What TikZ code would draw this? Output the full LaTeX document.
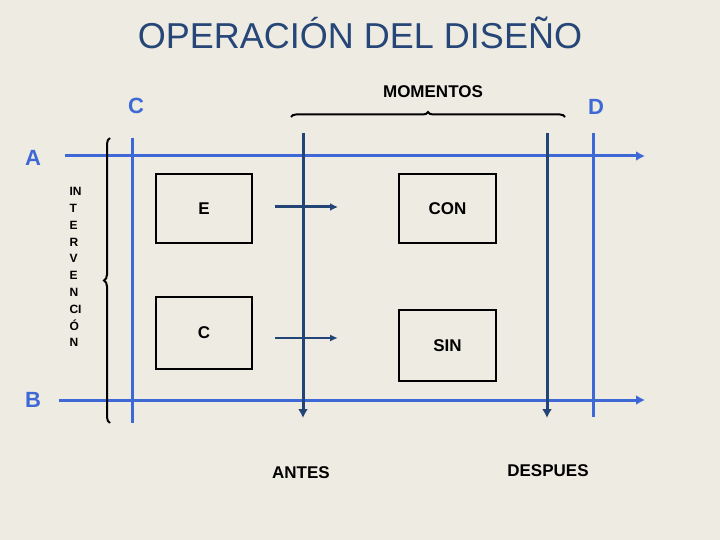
\documentclass[tikz,border=0pt]{standalone}
\usepackage{fontspec}
\setmainfont{Liberation Sans}
\usetikzlibrary{arrows.meta,decorations.pathreplacing}
\definecolor{paper}{RGB}{238,235,226}
\definecolor{titleblue}{RGB}{38,70,120}
\definecolor{axisblue}{RGB}{62,104,214}
\definecolor{navy}{RGB}{35,68,118}

\begin{document}
\begin{tikzpicture}[x=1pt, y=-1pt, >={Latex[length=9pt,width=10pt]},
		box/.style = {draw, line width=2pt, inner sep=0pt, font=\fontsize{17}{17}\selectfont\bfseries},
		axis/.style = {draw=axisblue, line width=3pt},
		moment/.style = {draw=navy, line width=3pt},
		letter/.style = {text=axisblue, font=\fontsize{22}{22}\selectfont\bfseries},
		word/.style = {font=\fontsize{17}{17}\selectfont\bfseries}]
		\fill[paper] (0,0) rectangle (720,540);
		\useasboundingbox (0,0) rectangle (720,540);

		\node[text=titleblue, font=\fontsize{36}{36}\selectfont] (title) at (360,33) {OPERACIÓN DEL DISEÑO};

		% ejes azules
		\coordinate (a1) at (65,156);  \coordinate (a2) at (645,156);
		\coordinate (b1) at (59,400);  \coordinate (b2) at (645,400);
		\coordinate (c1) at (132,138); \coordinate (c2) at (132,423);
		\coordinate (d1) at (593,133); \coordinate (d2) at (593,417);
		\draw[axis, ->] (a1) -- (a2);
		\draw[axis, ->] (b1) -- (b2);
		\draw[axis] (c1) -- (c2);
		\draw[axis] (d1) -- (d2);
		\node[letter] (A) at (33,158) {A};
		\node[letter] (B) at (33,400) {B};
		\node[letter] (C) at (136,106) {C};
		\node[letter] (D) at (596,107) {D};

		% momentos
		\coordinate (antes1) at (303,133);   \coordinate (antes2) at (303,418);
		\coordinate (despues1) at (547,133); \coordinate (despues2) at (547,418);
		\draw[moment, ->] (antes1) -- (antes2);
		\draw[moment, ->] (despues1) -- (despues2);
		\node[word] (antes) at (301,473) {ANTES};
		\node[word] (despues) at (548,471) {DESPUES};
		\coordinate (m1) at (291,117); \coordinate (m2) at (565,117);
		\draw[line width=2pt, decorate, decoration={brace, amplitude=5pt}] (m1) -- (m2);
		\node[word] (momentos) at (433,92) {MOMENTOS};

		% intervencion
		\coordinate (i1) at (110,423); \coordinate (i2) at (110,138);
		\draw[line width=2pt, decorate, decoration={brace, amplitude=6pt}] (i1) -- (i2);
		\node[font=\fontsize{12}{16.8}\selectfont\bfseries, align=left, anchor=north west] (interv) at (66,184)
			{IN\\T\\E\\R\\V\\E\\N\\CI\\Ó\\N};

		% cajas
		\node[box, minimum width=96pt, minimum height=69pt] (E) at (204,208.5) {E};
		\node[box, minimum width=96pt, minimum height=72pt] (Cb) at (204,333) {C};
		\node[box, minimum width=97pt, minimum height=69pt] (con) at (447.5,208.5) {CON};
		\node[box, minimum width=97pt, minimum height=71pt, text depth=-12pt] (sin) at (447.5,345.5) {SIN};

		\coordinate (e1) at (275,207); \coordinate (e2) at (338,207);
		\coordinate (k1) at (275,338); \coordinate (k2) at (338,338);
		\draw[moment, -{Latex[length=8pt,width=8pt]}] (e1) -- (e2);
		\draw[navy, line width=2pt, -{Latex[length=8pt,width=7pt]}] (k1) -- (k2);
\end{tikzpicture}
\end{document}
